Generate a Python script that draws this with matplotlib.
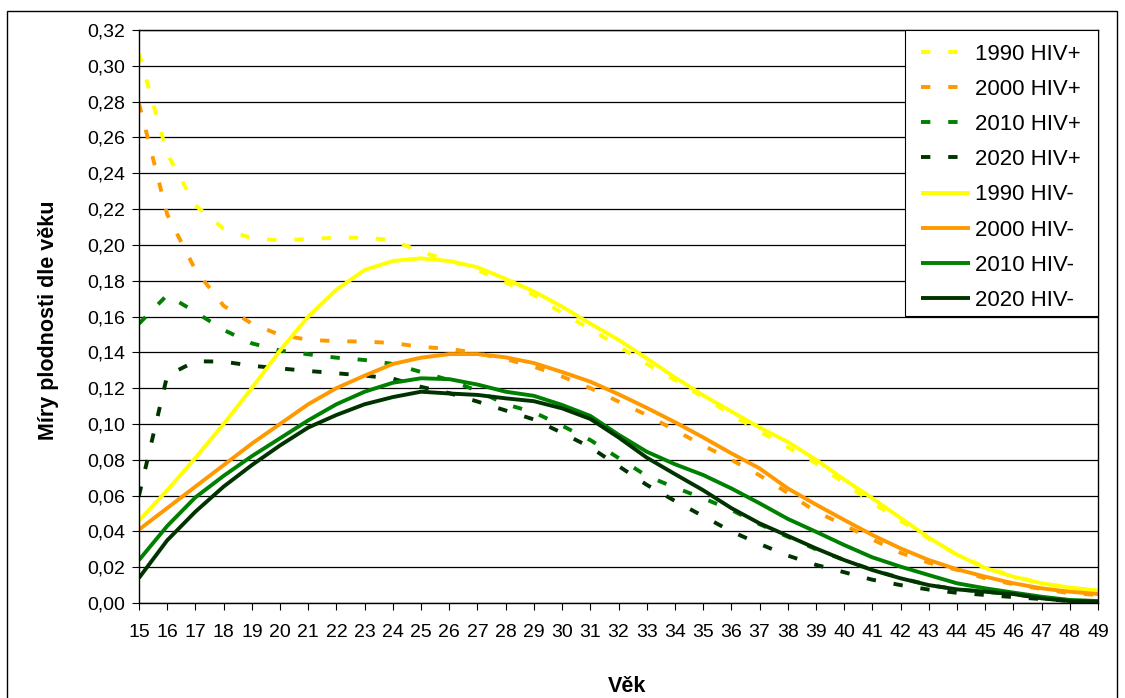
import matplotlib
matplotlib.use("Agg")
import matplotlib.pyplot as plt
from matplotlib.patches import Rectangle
from matplotlib.ticker import FixedLocator, FuncFormatter

plt.rcParams['font.family'] = ['Liberation Sans', 'DejaVu Sans']

# Age-specific fertility rates, ages 15-49
ages = list(range(15, 50))

hiv_pos_1990 = [0.307, 0.251, 0.222, 0.209, 0.2037, 0.2025, 0.2033, 0.204, 0.204, 0.2027,
                0.196, 0.1915, 0.186, 0.179, 0.172, 0.162, 0.153, 0.1435, 0.1335, 0.1245,
                0.115, 0.1053, 0.0958, 0.087, 0.078, 0.067, 0.056, 0.046, 0.036, 0.027,
                0.020, 0.015, 0.011, 0.0085, 0.0068]
hiv_pos_2000 = [0.279, 0.217, 0.186, 0.166, 0.156, 0.1497, 0.147, 0.1462, 0.146, 0.1452,
                0.143, 0.142, 0.1394, 0.1362, 0.132, 0.1265, 0.120, 0.1125, 0.105, 0.0965,
                0.088, 0.080, 0.0713, 0.0615, 0.051, 0.0436, 0.0355, 0.028, 0.0225, 0.0185,
                0.0138, 0.0105, 0.0078, 0.0055, 0.0045]
hiv_pos_2010 = [0.156, 0.172, 0.1625, 0.1525, 0.145, 0.141, 0.1389, 0.137, 0.1357, 0.1335,
                0.129, 0.1245, 0.1185, 0.111, 0.1065, 0.099, 0.091, 0.081, 0.071, 0.0645,
                0.0585, 0.052, 0.044, 0.037, 0.030, 0.024, 0.0185, 0.014, 0.010, 0.0077,
                0.0062, 0.005, 0.0028, 0.0012, 0.0007]
hiv_pos_2020 = [0.060, 0.127, 0.135, 0.1348, 0.1325, 0.131, 0.1296, 0.1283, 0.127, 0.1253,
                0.1207, 0.1172, 0.1125, 0.1075, 0.1025, 0.095, 0.087, 0.0765, 0.066, 0.057,
                0.0485, 0.040, 0.033, 0.0265, 0.0213, 0.0172, 0.013, 0.010, 0.0075, 0.0057,
                0.0045, 0.0033, 0.0022, 0.0012, 0.0007]
hiv_neg_1990 = [0.046, 0.063, 0.081, 0.100, 0.120, 0.141, 0.160, 0.175, 0.186, 0.191,
                0.1925, 0.191, 0.1875, 0.181, 0.174, 0.1655, 0.156, 0.147, 0.1366, 0.126,
                0.116, 0.107, 0.098, 0.090, 0.080, 0.069, 0.0585, 0.0475, 0.0365, 0.027,
                0.0195, 0.0147, 0.011, 0.0086, 0.0069]
hiv_neg_2000 = [0.041, 0.053, 0.065, 0.077, 0.089, 0.100, 0.111, 0.120, 0.127, 0.1335,
                0.137, 0.139, 0.139, 0.1372, 0.134, 0.129, 0.1236, 0.1166, 0.109, 0.101,
                0.0925, 0.0836, 0.0752, 0.064, 0.055, 0.0464, 0.038, 0.0305, 0.024, 0.0188,
                0.0147, 0.011, 0.0082, 0.0063, 0.005]
hiv_neg_2010 = [0.024, 0.043, 0.059, 0.071, 0.082, 0.092, 0.102, 0.111, 0.118, 0.123,
                0.1255, 0.125, 0.122, 0.118, 0.1157, 0.1106, 0.1045, 0.094, 0.0845, 0.0775,
                0.0715, 0.064, 0.0557, 0.047, 0.0398, 0.0324, 0.0255, 0.0203, 0.0156, 0.011,
                0.0082, 0.0058, 0.0035, 0.0017, 0.0011]
hiv_neg_2020 = [0.014, 0.035, 0.051, 0.065, 0.077, 0.088, 0.098, 0.105, 0.111, 0.115,
                0.118, 0.117, 0.1162, 0.1143, 0.1127, 0.1087, 0.1028, 0.0925, 0.0812, 0.072,
                0.063, 0.053, 0.0445, 0.0375, 0.0305, 0.024, 0.0184, 0.0138, 0.010, 0.0076,
                0.0063, 0.005, 0.0026, 0.0011, 0.0007]

series_labels = ['1990 HIV+', '2000 HIV+', '2010 HIV+', '2020 HIV+',
                 '1990 HIV-', '2000 HIV-', '2010 HIV-', '2020 HIV-']
series_values = [hiv_pos_1990, hiv_pos_2000, hiv_pos_2010, hiv_pos_2020,
                 hiv_neg_1990, hiv_neg_2000, hiv_neg_2010, hiv_neg_2020]
series_colors = ['#FFFF00', '#FF9900', '#008000', '#003300'] * 2
series_dashed = [True] * 4 + [False] * 4

y_ticks = [i / 100 for i in range(0, 33, 2)]

W, H = 1125, 698
fig = plt.figure(figsize=(W / 100, H / 100), dpi=100)
ax = fig.add_axes([139 / W, 1 - 603 / H, (1098 - 139) / W, (603 - 30) / H])

for label, vals, color, dashed in zip(series_labels, series_values,
                                      series_colors, series_dashed):
    if dashed:
        ax.plot(ages, vals, color=color, lw=2.8, label=label,
                dashes=(2.4, 4.6), dash_capstyle='butt', solid_joinstyle='round')
    else:
        ax.plot(ages, vals, color=color, lw=2.8, label=label,
                solid_capstyle='butt', solid_joinstyle='round')

ax.set_xlim(ages[0], ages[-1])
ax.set_ylim(0, 0.32)
ax.xaxis.set_major_locator(FixedLocator(ages))
ax.yaxis.set_major_locator(FixedLocator(y_ticks))
ax.yaxis.set_major_formatter(FuncFormatter(lambda v, p: f"{v:.2f}".replace('.', ',')))
ax.xaxis.set_major_formatter(FuncFormatter(lambda v, p: f"{int(round(v))}"))

ax.grid(axis='y', color='black', lw=0.9)
ax.set_axisbelow(True)
for s in ax.spines.values():
    s.set_color('black')
    s.set_linewidth(1.0)
ax.tick_params(axis='both', direction='out', length=5, width=0.8, colors='black',
               labelsize=14)
ax.tick_params(axis='y', pad=5)
ax.tick_params(axis='x', pad=10)

# legend box: white panel with a thin black border in the upper right corner
ax.add_patch(Rectangle((905 / W, 1 - 316 / H), (1098 - 905) / W, (316 - 30) / H,
                       transform=fig.transFigure, facecolor='white',
                       edgecolor='black', lw=0.8, zorder=4.5, clip_on=False))
leg = ax.legend(loc='upper left', bbox_to_anchor=(921 / W, 1 - 43.5 / H),
                bbox_transform=fig.transFigure, borderaxespad=0, borderpad=0,
                fontsize=16, frameon=False, handlelength=2.2, handletextpad=0.25,
                labelspacing=0.64)

fig.text(49 / W, 1 - 320 / H, 'Míry plodnosti dle věku', rotation=90,
         ha='center', va='center', fontsize=15.5, fontweight='bold')
fig.text(627 / W, 1 - 686 / H, 'Věk', ha='center', va='center',
         fontsize=15.5, fontweight='bold')

# outer chart frame
fig.patches.append(Rectangle((7 / W, -0.05), (1117 - 7) / W, 1 - 11 / H + 0.05,
                             transform=fig.transFigure, fill=False,
                             edgecolor='black', lw=1.0, clip_on=False))

fig.savefig('out.png', dpi=100)
